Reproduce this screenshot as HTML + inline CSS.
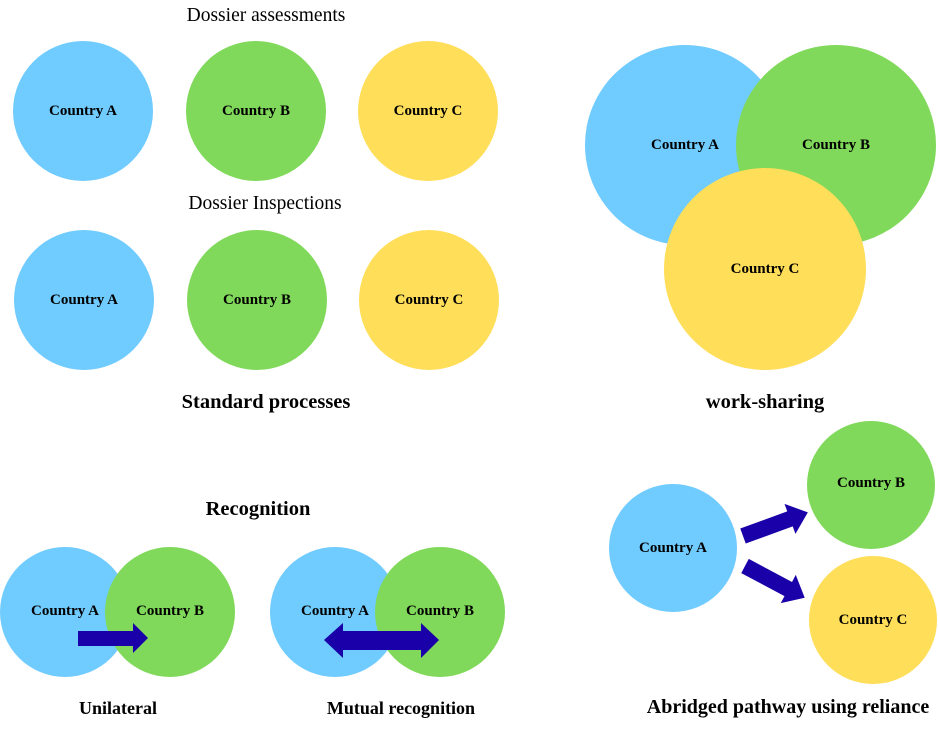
<!DOCTYPE html>
<html><head><meta charset="utf-8"><style>body{margin:0;background:#fff}svg{display:block}</style></head><body>
<svg width="938" height="731" xmlns="http://www.w3.org/2000/svg" font-family="Liberation Serif, serif">
<defs>
<g id="arr"><polygon points="0,-8 50,-8 50,-16 69,0 50,16 50,8 0,8" fill="#1A00A8"/></g>
</defs>
<g font-size="15" font-weight="bold" text-anchor="middle">
<circle cx="83" cy="111" r="70" fill="#70CBFF"/><text x="83" y="115">Country A</text>
<circle cx="256" cy="111" r="70" fill="#80D95A"/><text x="256" y="115">Country B</text>
<circle cx="428" cy="111" r="70" fill="#FFDE59"/><text x="428" y="115">Country C</text>
<circle cx="84" cy="300" r="70" fill="#70CBFF"/><text x="84" y="304">Country A</text>
<circle cx="257" cy="300" r="70" fill="#80D95A"/><text x="257" y="304">Country B</text>
<circle cx="429" cy="300" r="70" fill="#FFDE59"/><text x="429" y="304">Country C</text>

<circle cx="685" cy="145" r="100" fill="#70CBFF"/>
<circle cx="836" cy="145" r="100" fill="#80D95A"/>
<circle cx="765" cy="269" r="101" fill="#FFDE59"/>
<text x="685" y="149">Country A</text><text x="836" y="149">Country B</text><text x="765" y="273">Country C</text>

<circle cx="65" cy="612" r="65" fill="#70CBFF"/>
<circle cx="170" cy="612" r="65" fill="#80D95A"/>
<text x="65" y="615">Country A</text><text x="170" y="615">Country B</text>
<polygon points="78,631 133,631 133,623 148,638 133,653 133,646 78,646" fill="#1A00A8"/>

<circle cx="335" cy="612" r="65" fill="#70CBFF"/>
<circle cx="440" cy="612" r="65" fill="#80D95A"/>
<text x="335" y="615">Country A</text><text x="440" y="615">Country B</text>
<polygon points="324,640 343,623 343,631 421,631 421,623 439,640 421,658 421,650 343,650 343,658" fill="#1A00A8"/>

<circle cx="673" cy="548" r="64" fill="#70CBFF"/><text x="673" y="552">Country A</text>
<circle cx="871" cy="485" r="64" fill="#80D95A"/><text x="871" y="487">Country B</text>
<circle cx="873" cy="620" r="64" fill="#FFDE59"/><text x="873" y="624">Country C</text>
<use href="#arr" transform="translate(743,536) rotate(-20)"/>
<use href="#arr" transform="translate(745,566) rotate(28) scale(0.98,1)"/>
</g>
<g text-anchor="middle">
<text x="266" y="21" font-size="19.5">Dossier assessments</text>
<text x="265" y="209" font-size="19.5">Dossier Inspections</text>
<g font-size="20.5" font-weight="bold">
<text x="266" y="408">Standard processes</text>
<text x="765" y="408">work-sharing</text>
<text x="258" y="515">Recognition</text>
<text x="788" y="713" font-size="20">Abridged pathway using reliance</text>
</g>
<g font-size="18" font-weight="bold">
<text x="118" y="714">Unilateral</text>
<text x="401" y="714">Mutual recognition</text>
</g>
</g>
</svg>
</body></html>
